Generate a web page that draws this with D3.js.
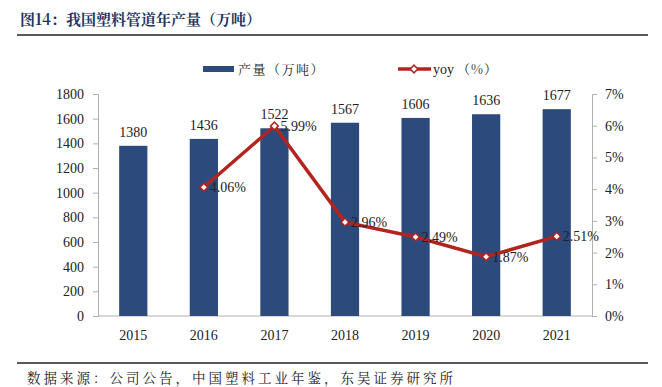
<html>
<head>
<script src="https://d3js.org/d3.v7.min.js"></script>
<style>
  body { margin: 0; background: #fff; }
  svg text { font-family: "Liberation Serif", "Times New Roman", serif; }
  .cjk { font-family: "Noto Serif CJK SC", "Noto Sans CJK SC", serif; }
</style>
</head>
<body>
<svg id="chart" width="662" height="387"></svg>
<script>
const years = ["2015", "2016", "2017", "2018", "2019", "2020", "2021"];
const output = [1380, 1436, 1522, 1567, 1606, 1636, 1677];
const yoy = [null, 4.06, 5.99, 2.96, 2.49, 1.87, 2.51];
const leftTicks = [0, 200, 400, 600, 800, 1000, 1200, 1400, 1600, 1800];
const rightTicks = [0, 1, 2, 3, 4, 5, 6, 7];

const svg = d3.select("#chart");
const navy = "#2c4a7c";
const red = "#b3241e";
const margin = { top: 94, right: 70, bottom: 71, left: 98 };
const W = 662, H = 387;

// title + rules
svg.append("text").attr("class", "cjk").attr("x", 20).attr("y", 25)
  .attr("fill", "#1f3560").attr("font-size", 15).attr("font-weight", "bold")
  .text("图14：我国塑料管道年产量（万吨）");
svg.append("line").attr("x1", 17).attr("x2", 648).attr("y1", 35).attr("y2", 35)
  .attr("stroke", "#222").attr("stroke-width", 1.5);
svg.append("line").attr("x1", 17).attr("x2", 648).attr("y1", 363).attr("y2", 363)
  .attr("stroke", "#222").attr("stroke-width", 1.5);
svg.append("text").attr("class", "cjk").attr("x", 27).attr("y", 383)
  .attr("fill", "#222").attr("font-size", 13.5).attr("letter-spacing", 3)
  .text("数据来源：公司公告，中国塑料工业年鉴，东吴证券研究所");

const x = d3.scaleBand().domain(years).range([margin.left, W - margin.right]).paddingInner(0.6).paddingOuter(0.3);
const y = d3.scaleLinear().domain([0, 1800]).range([H - margin.bottom, margin.top]);
const y2 = d3.scaleLinear().domain([0, 7]).range([H - margin.bottom, margin.top]);

// axes
const gL = svg.append("g").attr("transform", `translate(${margin.left},0)`)
  .call(d3.axisLeft(y).tickValues(leftTicks).tickSize(5).tickPadding(9).tickFormat(d3.format("d")));
const gR = svg.append("g").attr("transform", `translate(${W - margin.right},0)`)
  .call(d3.axisRight(y2).tickValues(rightTicks).tickSize(5).tickPadding(8).tickFormat(d => d + "%"));
const gB = svg.append("g").attr("transform", `translate(0,${H - margin.bottom})`)
  .call(d3.axisBottom(x).tickSize(0).tickPadding(14));
[gL, gR, gB].forEach(g => {
  g.selectAll("path, line").attr("stroke", "#b0b0b0");
  g.selectAll("text").attr("font-family", "Liberation Serif").attr("font-size", 14).attr("fill", "#222");
});
gR.selectAll(".tick line").attr("x2", 0).attr("x1", 5);
gB.select(".domain").attr("d", `M${margin.left},0H${W - margin.right}`);

// bars
svg.append("g").selectAll("rect").data(output).join("rect")
  .attr("x", (d, i) => x(years[i]))
  .attr("y", d => y(d))
  .attr("width", x.bandwidth())
  .attr("height", d => y(0) - y(d))
  .attr("fill", navy);
svg.append("g").selectAll("text").data(output).join("text")
  .attr("x", (d, i) => x(years[i]) + x.bandwidth() / 2)
  .attr("y", d => y(d) - 9)
  .attr("text-anchor", "middle").attr("font-size", 14).attr("fill", "#222")
  .text(d => d);

// yoy line
const pts = yoy.map((v, i) => ({ yr: years[i], v })).filter(d => d.v != null);
const cx = d => x(d.yr) + x.bandwidth() / 2;
const marker = d3.symbol().type(d3.symbolSquare).size(30);
svg.append("path").datum(pts)
  .attr("fill", "none").attr("stroke", red).attr("stroke-width", 3.5)
  .attr("d", d3.line().x(cx).y(d => y2(d.v)));
svg.append("g").selectAll("path").data(pts).join("path")
  .attr("d", marker)
  .attr("transform", d => `translate(${cx(d)},${y2(d.v)}) rotate(45)`)
  .attr("fill", "#fff").attr("stroke", red).attr("stroke-width", 1.5);
svg.append("g").selectAll("text").data(pts).join("text")
  .attr("x", d => cx(d) + 6)
  .attr("y", d => y2(d.v) + 5)
  .attr("font-size", 14).attr("fill", "#222")
  .text(d => d.v.toFixed(2) + "%");

// legend
svg.append("rect").attr("x", 203).attr("y", 66).attr("width", 31).attr("height", 6).attr("fill", navy);
svg.append("text").attr("class", "cjk").attr("x", 238).attr("y", 74).attr("font-size", 13).attr("letter-spacing", 1.5).attr("fill", "#222").text("产量（万吨）");
svg.append("line").attr("x1", 398).attr("x2", 431).attr("y1", 69).attr("y2", 69).attr("stroke", red).attr("stroke-width", 3.5);
svg.append("path").attr("d", marker).attr("transform", "translate(414,69) rotate(45)")
  .attr("fill", "#fff").attr("stroke", red).attr("stroke-width", 1.5);
svg.append("text").attr("x", 433).attr("y", 74).attr("font-size", 14).attr("fill", "#222").text("yoy");
svg.append("text").attr("class", "cjk").attr("x", 457).attr("y", 74).attr("font-size", 13).attr("letter-spacing", 1).attr("fill", "#222").text("（%）");
</script>
</body>
</html>
